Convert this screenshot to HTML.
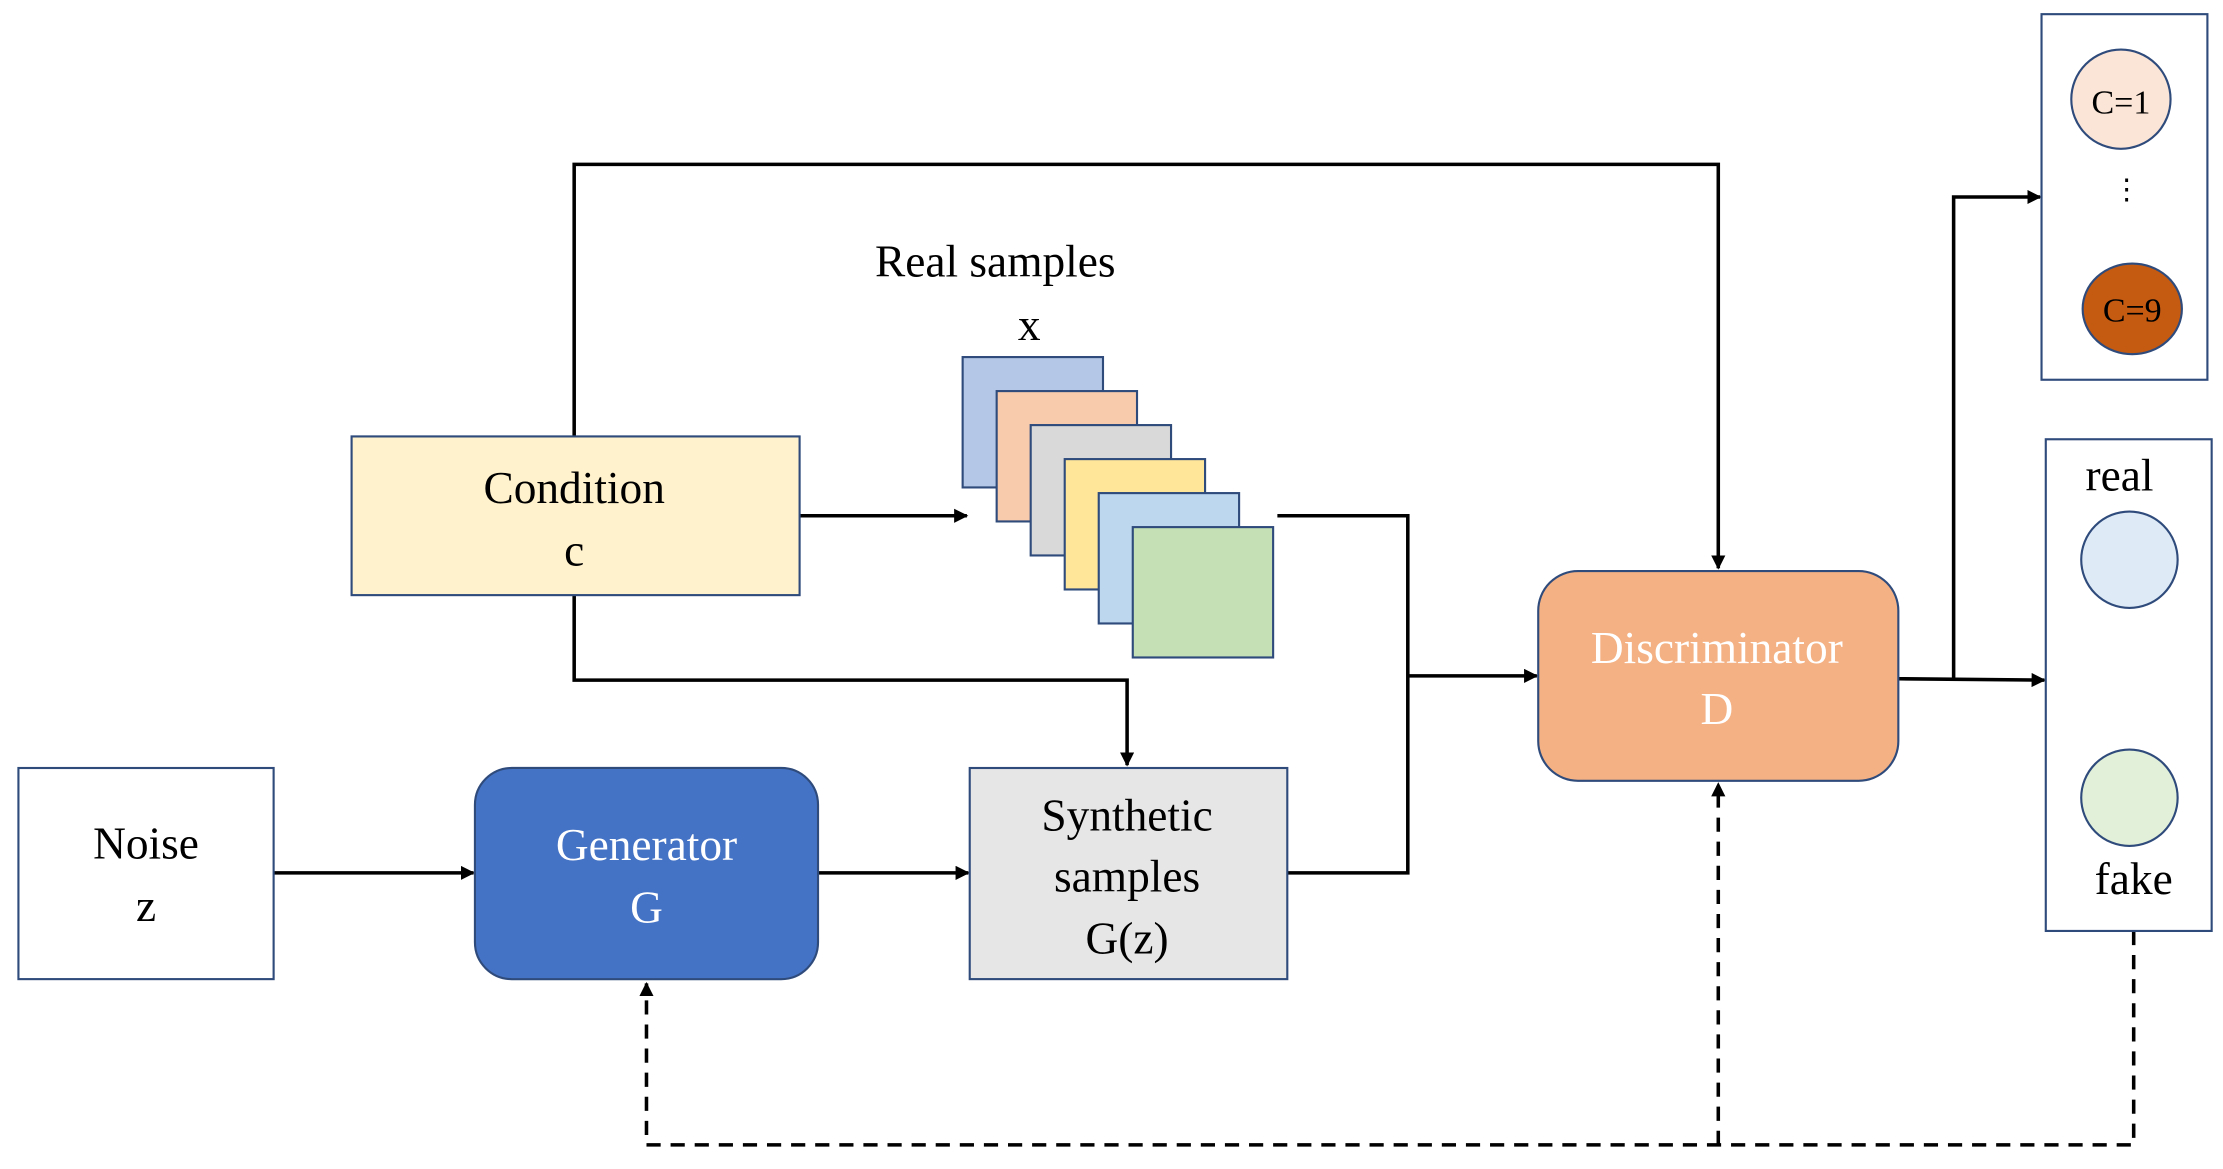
<!DOCTYPE html>
<html><head><meta charset="utf-8"><style>html,body{margin:0;padding:0;background:#fff}svg{display:block}</style></head>
<body>
<svg width="2223" height="1169" viewBox="0 0 1568 825" preserveAspectRatio="none" xmlns="http://www.w3.org/2000/svg" font-family="'Liberation Serif', serif" font-size="32" text-anchor="middle">
<defs>
<marker id="a" markerWidth="10" markerHeight="10" refX="9" refY="5" orient="auto" markerUnits="userSpaceOnUse"><path d="M0,0 L10,5 L0,10 z" fill="#000"/></marker>
</defs>
<g stroke="#000" stroke-width="2.5" fill="none">
<polyline points="405,308 405,116 1212,116 1212,401" marker-end="url(#a)"/>
<line x1="564" y1="364" x2="682" y2="364" marker-end="url(#a)"/>
<polyline points="901,364 993,364 993,616 908,616"/>
<line x1="993" y1="477" x2="1084" y2="477" marker-end="url(#a)"/>
<polyline points="405,420 405,480 795,480 795,540" marker-end="url(#a)"/>
<line x1="193" y1="616" x2="334" y2="616" marker-end="url(#a)"/>
<line x1="577" y1="616" x2="683" y2="616" marker-end="url(#a)"/>
<line x1="1339" y1="479" x2="1442" y2="480" marker-end="url(#a)"/>
<polyline points="1378,479 1378,139 1439,139" marker-end="url(#a)"/>
<g stroke-dasharray="10,7">
<polyline points="1505,657 1505,808 456,808 456,694" marker-end="url(#a)"/>
<line x1="1212" y1="808" x2="1212" y2="553" marker-end="url(#a)"/>
</g>
</g>
<g stroke="#2F4B7C" stroke-width="1.5">
<rect x="13" y="542" width="180" height="149" fill="#fff"/>
<rect x="335" y="542" width="242" height="149" rx="26" fill="#4472C4"/>
<rect x="684" y="542" width="224" height="149" fill="#E6E6E6"/>
<rect x="248" y="308" width="316" height="112" fill="#FFF2CC"/>
<rect x="679" y="252" width="99" height="92" fill="#B4C7E7"/>
<rect x="703" y="276" width="99" height="92" fill="#F8CBAD"/>
<rect x="727" y="300" width="99" height="92" fill="#D9D9D9"/>
<rect x="751" y="324" width="99" height="92" fill="#FFE699"/>
<rect x="775" y="348" width="99" height="92" fill="#BDD7EE"/>
<rect x="799" y="372" width="99" height="92" fill="#C5E0B4"/>
<rect x="1085" y="403" width="254" height="148" rx="28" fill="#F4B183"/>
<rect x="1440" y="10" width="117" height="258" fill="#fff"/>
<rect x="1443" y="310" width="117" height="347" fill="#fff"/>
<ellipse cx="1496" cy="70" rx="35" ry="35" fill="#FBE5D6"/>
<ellipse cx="1504" cy="218" rx="35" ry="32" fill="#C55A11"/>
<ellipse cx="1502" cy="395" rx="34" ry="34" fill="#DEEBF7"/>
<ellipse cx="1502" cy="563" rx="34" ry="34" fill="#E2F0D9"/>
</g>
<g fill="#000">
<text x="103" y="606">Noise</text>
<text x="103" y="650">z</text>
<text x="795" y="586">Synthetic</text>
<text x="795" y="629">samples</text>
<text x="795" y="673">G(z)</text>
<text x="405" y="355">Condition</text>
<text x="405" y="399">c</text>
<text x="702" y="195">Real samples</text>
<text x="726" y="240">x</text>
<text x="1496" y="80" font-size="24">C=1</text>
<text x="1504" y="227" font-size="24">C=9</text>
<text x="1500" y="140" font-size="20">⋮</text>
<text x="1495" y="346">real</text>
<text x="1505" y="631">fake</text>
</g>
<g fill="#fff">
<text x="456" y="607">Generator</text>
<text x="456" y="651">G</text>
<text x="1211" y="468">Discriminator</text>
<text x="1211" y="511">D</text>
</g>
</svg>
</body></html>
